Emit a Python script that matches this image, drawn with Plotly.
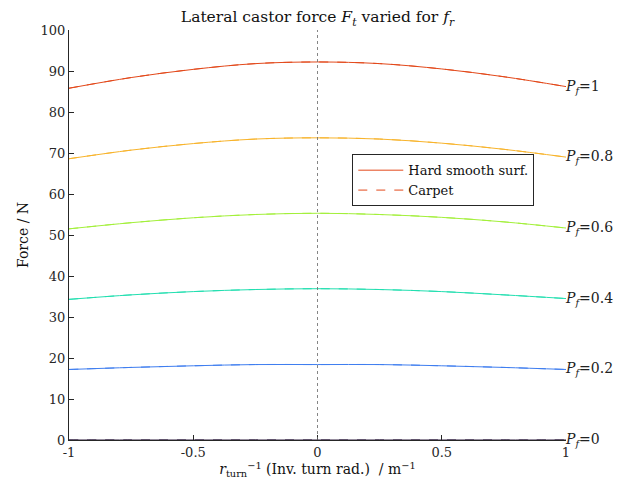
import plotly.graph_objects as go

x_vals = [-1, -0.75, -0.5, -0.25, 0, 0.25, 0.5, 0.75, 1]
pf_levels = ["0", "0.2", "0.4", "0.6", "0.8", "1"]

force_pf0 = [0, 0, 0, 0, 0, 0, 0, 0, 0]
force_pf02 = [17.2, 17.7, 18.1, 18.4, 18.4, 18.4, 18.1, 17.7, 17.2]
force_pf04 = [34.3, 35.4, 36.2, 36.7, 36.9, 36.7, 36.2, 35.4, 34.5]
force_pf06 = [51.5, 53.0, 54.2, 55.0, 55.3, 55.0, 54.3, 53.2, 51.7]
force_pf08 = [68.6, 70.7, 72.3, 73.4, 73.7, 73.4, 72.4, 70.9, 69.0]
force_pf1 = [85.8, 88.4, 90.4, 91.8, 92.2, 91.8, 90.5, 88.6, 86.2]

hard_series = [force_pf0, force_pf02, force_pf04, force_pf06, force_pf08, force_pf1]
carpet_series = [force_pf0, force_pf02, force_pf04, force_pf06, force_pf08, force_pf1]

colors = ["#2d1b3d", "#3f7ef0", "#22dfb0", "#a3f03a", "#f8b42c", "#e3491b"]

FONT = "DejaVu Serif"
fig = go.Figure()

for i, (lvl, hard, carpet, col) in enumerate(zip(pf_levels, hard_series, carpet_series, colors)):
    last = i == len(pf_levels) - 1
    fig.add_trace(go.Scatter(x=x_vals, y=hard, mode="lines", line=dict(color=col, width=1, shape="spline"),
                             name="Hard smooth surf.", showlegend=last, legendrank=1))
    fig.add_trace(go.Scatter(x=x_vals, y=carpet, mode="lines", line=dict(color=col, width=1, dash="dash", shape="spline"),
                             name="Carpet", showlegend=last, legendrank=2))
    fig.add_annotation(x=1, y=hard[-1], xref="x", yref="y", text=f"<i>P</i><sub><i>f</i></sub>={lvl}",
                       showarrow=False, xanchor="left", yanchor="middle", xshift=-3,
                       font=dict(family=FONT, size=14, color="#222"))

fig.add_shape(type="line", x0=0, x1=0, y0=0, y1=100, xref="x", yref="y",
              line=dict(color="#666", width=0.8, dash="dot"))

fig.update_layout(
    width=632, height=494,
    margin=dict(l=61, r=74, t=22, b=62),
    paper_bgcolor="white", plot_bgcolor="white",
    font=dict(family=FONT, size=13, color="#262626"),
    title=dict(text="Lateral castor force <i>F</i><sub><i>t</i></sub> varied for <i>f</i><sub><i>r</i></sub>",
               x=0.5, xref="paper", y=0.982, yanchor="middle", font=dict(family=FONT, size=15.5, color="#111")),
    legend=dict(x=0.57, y=0.697, xanchor="left", yanchor="top", bgcolor="white",
                bordercolor="#262626", borderwidth=1, font=dict(family=FONT, size=13, color="#111"),
                tracegroupgap=0, itemwidth=45),
    showlegend=True,
)
fig.update_xaxes(range=[-1, 1], tickvals=[-1, -0.5, 0, 0.5, 1], ticktext=["-1", "-0.5", "0", "0.5", "1"],
                 showgrid=False, zeroline=False, showline=True, linecolor="#262626", linewidth=1,
                 ticks="inside", ticklen=5, tickcolor="#262626", mirror=False,
                 title=dict(text="<i>r</i><sub>turn</sub><sup>−1</sup> (Inv. turn rad.)  / m<sup>−1</sup>",
                            font=dict(family=FONT, size=14, color="#111"), standoff=4))
fig.update_yaxes(range=[0, 100], tickvals=list(range(0, 101, 10)),
                 showgrid=False, zeroline=False, showline=True, linecolor="#262626", linewidth=1,
                 ticks="inside", ticklen=5, tickcolor="#262626", mirror=False,
                 title=dict(text="Force / N", font=dict(family=FONT, size=14, color="#111"), standoff=8))

fig.write_html("out.html")
